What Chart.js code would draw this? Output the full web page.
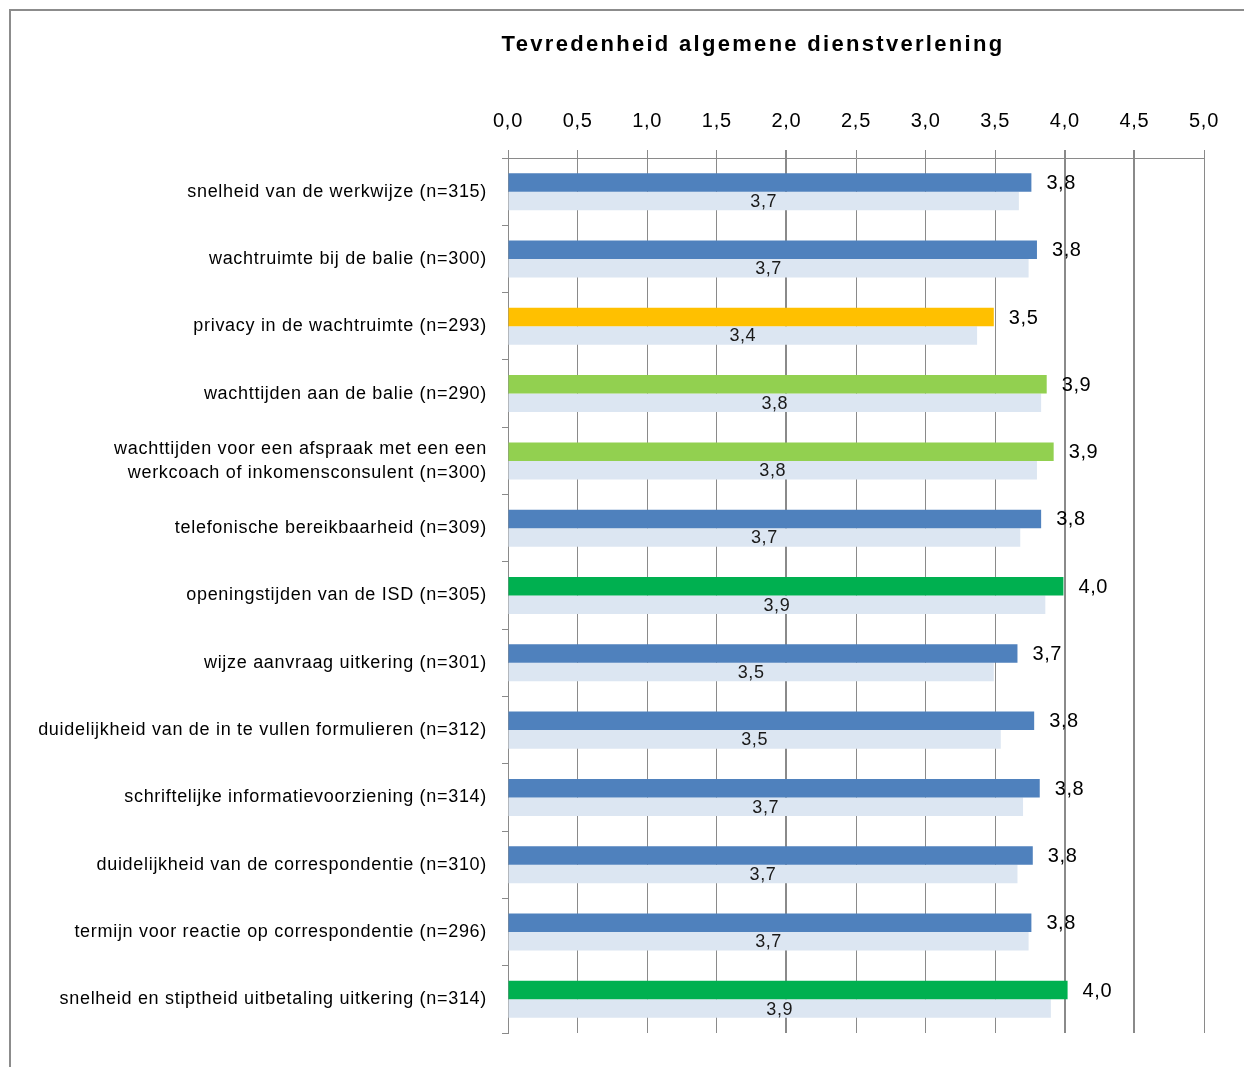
<!DOCTYPE html>
<html>
<head>
<meta charset="utf-8">
<script src="https://cdn.jsdelivr.net/npm/chart.js@4/dist/chart.umd.min.js"></script>
<style>
  html, body { margin: 0; padding: 0; background: #fff; }
  canvas { display: block; }
</style>
</head>
<body>
<canvas id="c" width="1244" height="1067"></canvas>
<script>
const chartTitle = 'Tevredenheid algemene dienstverlening';
const categories = [
  'snelheid van de werkwijze (n=315)',
  'wachtruimte bij de balie (n=300)',
  'privacy in de wachtruimte (n=293)',
  'wachttijden aan de balie (n=290)',
  ['wachttijden voor een afspraak met een een', 'werkcoach of inkomensconsulent (n=300)'],
  'telefonische bereikbaarheid (n=309)',
  'openingstijden van de ISD (n=305)',
  'wijze aanvraag uitkering (n=301)',
  'duidelijkheid van de in te vullen formulieren (n=312)',
  'schriftelijke informatievoorziening (n=314)',
  'duidelijkheid van de correspondentie (n=310)',
  'termijn voor reactie op correspondentie (n=296)',
  'snelheid en stiptheid uitbetaling uitkering (n=314)'
];
const currentValues  = [3.76, 3.80, 3.49, 3.87, 3.92, 3.83, 3.99, 3.66, 3.78, 3.82, 3.77, 3.76, 4.02];
const previousValues = [3.67, 3.74, 3.37, 3.83, 3.80, 3.68, 3.86, 3.49, 3.54, 3.70, 3.66, 3.74, 3.90];
const BLUE = '#4F81BD', YELLOW = '#FFC000', LIGHTGREEN = '#92D050', GREEN = '#00B050', PALE = '#DCE6F2';
const currentColors = [BLUE, BLUE, YELLOW, LIGHTGREEN, LIGHTGREEN, BLUE, GREEN, BLUE, BLUE, BLUE, BLUE, BLUE, GREEN];
const axisMin = 0, axisMax = 5, axisStep = 0.5;
const heavyGridTicks = [2.0, 4.0, 4.5];

const fmt = v => Number(v).toFixed(1).replace('.', ',');
const FONT = '"Liberation Sans", Arial, sans-serif';

const decorPlugin = {
  id: 'decor',
  beforeDraw(chart) {
    const ctx = chart.ctx;
    ctx.save();
    ctx.strokeStyle = '#8c8c8c';
    ctx.lineWidth = 2;
    ctx.strokeRect(10, 10, 1400, 1400);
    ctx.restore();
    ctx.letterSpacing = '0.7px';
  },
  beforeDatasetsDraw(chart) {
    chart.ctx.letterSpacing = '0px';
  },
  afterDatasetsDraw(chart) {
    const ctx = chart.ctx;
    ctx.save();
    ctx.textBaseline = 'middle';
    const m0 = chart.getDatasetMeta(0);
    ctx.font = '20px ' + FONT;
    ctx.fillStyle = '#000';
    ctx.textAlign = 'left';
    ctx.letterSpacing = '0.6px';
    m0.data.forEach((el, i) => {
      ctx.fillText(fmt(currentValues[i]), el.x + 15, el.y + 1);
    });
    const m1 = chart.getDatasetMeta(1);
    ctx.font = '18px ' + FONT;
    ctx.fillStyle = '#1a1a1a';
    ctx.textAlign = 'center';
    m1.data.forEach((el, i) => {
      ctx.fillText(fmt(previousValues[i]), (el.x + el.base) / 2, el.y + 1);
    });
    // title
    ctx.font = 'bold 22px ' + FONT;
    ctx.fillStyle = '#000';
    ctx.letterSpacing = '2.3px';
    ctx.textAlign = 'center';
    ctx.fillText(chartTitle, 753, 45);
    ctx.restore();
    ctx.letterSpacing = '0px';
  }
};

new Chart(document.getElementById('c'), {
  type: 'bar',
  data: {
    labels: categories,
    datasets: [
      { data: currentValues, backgroundColor: currentColors, categoryPercentage: 0.55, barPercentage: 1.0, borderWidth: 0 },
      { data: previousValues, backgroundColor: PALE, categoryPercentage: 0.55, barPercentage: 1.0, borderWidth: 0 }
    ]
  },
  options: {
    indexAxis: 'y',
    responsive: false,
    animation: false,
    devicePixelRatio: 1,
    layout: { padding: { left: 0, right: 40, top: 90, bottom: 34 } },
    plugins: { legend: { display: false }, tooltip: { enabled: false }, title: { display: false } },
    scales: {
      x: {
        position: 'top',
        min: axisMin, max: axisMax,
        ticks: { stepSize: axisStep, callback: v => fmt(v), color: '#000', font: { family: FONT, size: 20 }, padding: 17, maxRotation: 0 },
        grid: {
          color: '#8a8a8a',
          lineWidth: c => (c.tick && heavyGridTicks.includes(Math.round(c.tick.value * 10) / 10)) ? 2 : 1,
          tickLength: 8
        },
        border: { color: '#8a8a8a', width: 1 },
        afterFit: s => { s.height = 68; }
      },
      y: {
        ticks: { color: '#000', font: { family: FONT, size: 18, lineHeight: 1.33 }, padding: 15, autoSkip: false },
        grid: { offset: true, drawOnChartArea: false, tickLength: 6, color: '#8a8a8a' },
        border: { color: '#8a8a8a', width: 1 },
        afterFit: s => { s.width = 508; }
      }
    }
  },
  plugins: [decorPlugin]
});
</script>
</body>
</html>
